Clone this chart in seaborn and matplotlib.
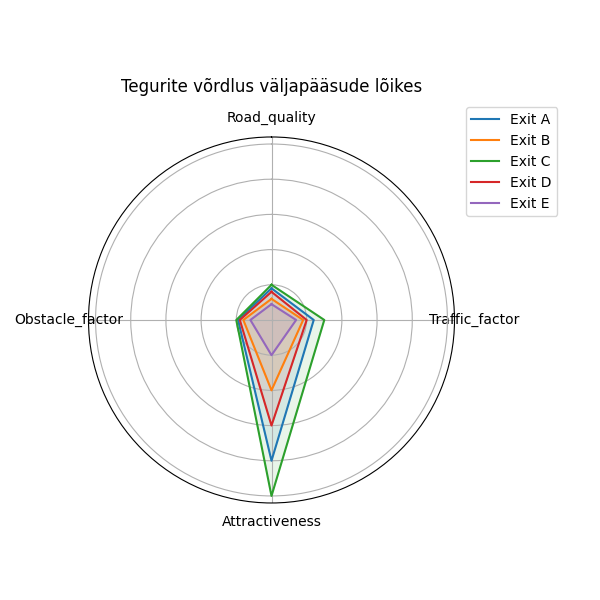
import numpy as np
import matplotlib
matplotlib.use("Agg")
import matplotlib.pyplot as plt
import seaborn as sns

factors = ["Road_quality", "Traffic_factor", "Attractiveness", "Obstacle_factor"]
exits = ["Exit A", "Exit B", "Exit C", "Exit D", "Exit E"]
exit_a = [0.9, 1.2, 4.0, 0.95]
exit_b = [0.6, 0.9, 2.0, 0.8]
exit_c = [1.0, 1.5, 5.0, 1.0]
exit_d = [0.8, 1.0, 3.0, 0.9]
exit_e = [0.45, 0.7, 1.0, 0.6]
values = [exit_a, exit_b, exit_c, exit_d, exit_e]

colors = sns.color_palette("tab10", len(exits))

angles = np.linspace(0, 2 * np.pi, len(factors), endpoint=False).tolist()
angles += angles[:1]

fig = plt.figure(figsize=(6, 6), dpi=100)
ax = fig.add_axes([0.1475, 0.1617, 0.61, 0.61], polar=True)
ax.set_theta_offset(np.pi / 2)
ax.set_theta_direction(-1)

for name, vals, col in zip(exits, values, colors):
    v = vals + vals[:1]
    ax.plot(angles, v, color=col, linewidth=1.5, label=name)
    ax.fill(angles, v, color=col, alpha=0.1)

ax.set_xticks(angles[:-1])
ax.set_xticklabels(factors)
ax.set_yticks([1, 2, 3, 4, 5])
ax.set_yticklabels([])
ax.set_ylim(0, 5.2)
ax.set_title("Tegurite võrdlus väljapääsude lõikes", y=1.1)
ax.legend(loc="upper right", bbox_to_anchor=(1.3, 1.1))

fig.savefig("out.png", dpi=100)
